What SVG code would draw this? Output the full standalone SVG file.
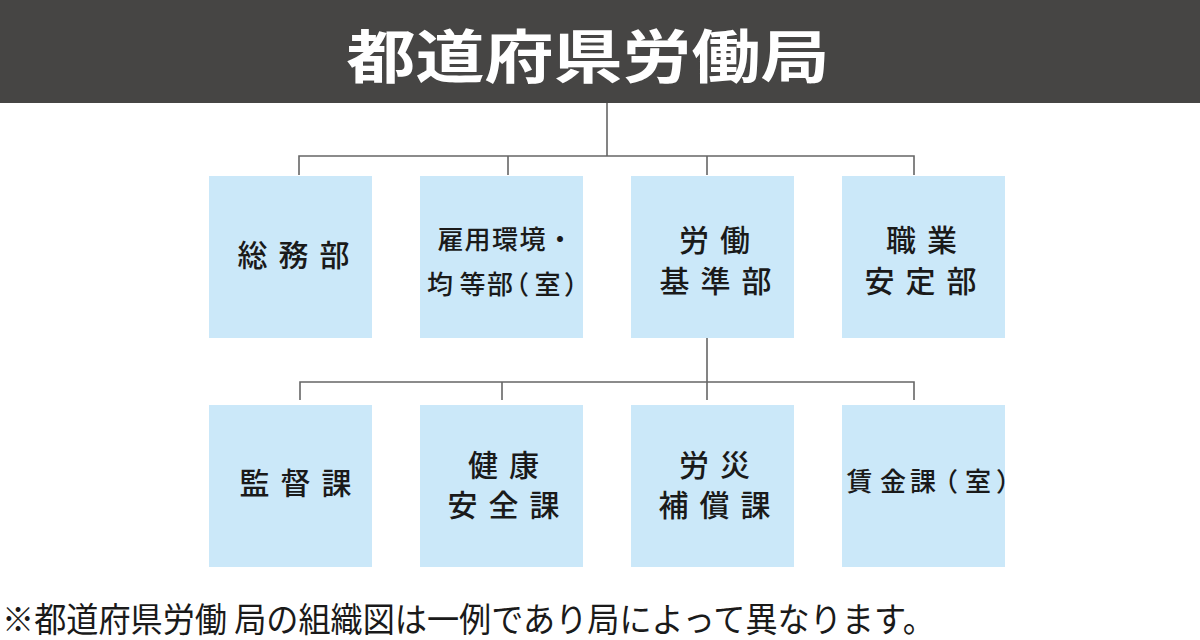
<svg xmlns="http://www.w3.org/2000/svg" width="1200" height="640" viewBox="0 0 1200 640">
<style>
.box{fill:#cbe8f9}
.t{font-family:"Noto Sans CJK JP","Noto Sans",sans-serif;font-weight:500;font-size:30px;fill:#1a1a1a;text-anchor:middle;letter-spacing:11px}
.p{font-family:"Noto Sans CJK JP","Noto Sans",sans-serif;font-weight:500;font-size:26px;fill:#1a1a1a}
.ln{stroke:#666;stroke-width:1.6;fill:none}
</style>
<rect x="0" y="0" width="1200" height="103" fill="#464544"/>
<text x="588" y="78" font-family="'Noto Sans CJK JP',sans-serif" font-weight="700" font-size="58" fill="#fff" text-anchor="middle" textLength="483" lengthAdjust="spacingAndGlyphs">都道府県労働局</text>
<g id="connectors" class="ln">
<path d="M607 103V156M299 175V156H914V175M508 156V175M707 156V175"/>
<path d="M707 338V382M300 400V382H914V400M502 382V400M707 382V400"/>
</g>
<g id="n1"><rect class="box" x="209" y="176" width="163" height="162"/><text class="t" x="299" y="266">総務部</text></g>
<g id="n2"><rect class="box" x="420" y="176" width="163" height="162"/><text class="p" x="437.5 464.5 492 519.5 547" y="249">雇用環境・</text><text class="p" x="427 459.5 487 503 534.5 564" y="294">均等部（室）</text></g>
<g id="n3"><rect class="box" x="631" y="176" width="163" height="162"/><text class="t" x="720" y="251">労働</text><text class="t" x="721" y="292">基準部</text></g>
<g id="n4"><rect class="box" x="842" y="176" width="163" height="162"/><text class="t" x="927" y="251">職業</text><text class="t" x="926" y="292">安定部</text></g>
<g id="n5"><rect class="box" x="209" y="405" width="163" height="162"/><text class="t" x="301" y="494">監督課</text></g>
<g id="n6"><rect class="box" x="420" y="405" width="163" height="162"/><text class="t" x="509" y="476">健康</text><text class="t" x="509" y="516">安全課</text></g>
<g id="n7"><rect class="box" x="631" y="405" width="163" height="162"/><text class="t" x="720" y="476">労災</text><text class="t" x="720" y="516">補償課</text></g>
<g id="n8"><rect class="box" x="842" y="405" width="163" height="162"/><text class="p" font-size="27" x="846.5 880 910 932 965 996" y="491">賃金課（室）</text></g>
<text x="2" y="632" font-family="'Noto Sans CJK JP',sans-serif" font-size="34" fill="#1a1a1a" textLength="933" lengthAdjust="spacingAndGlyphs">※都道府県労働 局の組織図は一例であり局によって異なります。</text>
</svg>
